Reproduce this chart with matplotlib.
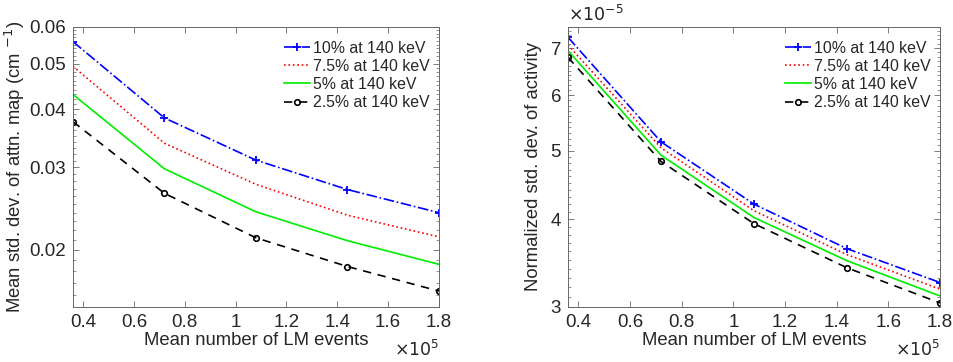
"""Noise vs. number of list-mode events for four energy resolutions.

Left: mean std. dev. of the attenuation map; right: normalized std. dev. of activity.
Both y axes are log-scaled, MATLAB-style box axes.
"""

import matplotlib
matplotlib.use("Agg")
import matplotlib.pyplot as plt
from matplotlib.ticker import FixedLocator, FuncFormatter, MultipleLocator

plt.rcParams["font.family"] = ["Liberation Sans", "DejaVu Sans"]

# data
lm_events = [36000, 72000, 108000, 144000, 180000]
labels = ["10% at 140 keV", "7.5% at 140 keV", "5% at 140 keV", "2.5% at 140 keV"]

attn_10 = [0.0558, 0.0383, 0.0311, 0.0269, 0.0240]
attn_75 = [0.0494, 0.0338, 0.0276, 0.0237, 0.0213]
attn_5 = [0.0430, 0.0298, 0.0241, 0.0209, 0.0186]
attn_25 = [0.0376, 0.0264, 0.0212, 0.0184, 0.0163]

act_10 = [7.25e-5, 5.15e-5, 4.20e-5, 3.63e-5, 3.25e-5]
act_75 = [7.07e-5, 5.05e-5, 4.11e-5, 3.56e-5, 3.18e-5]
act_5 = [6.94e-5, 4.93e-5, 4.02e-5, 3.49e-5, 3.11e-5]
act_25 = [6.79e-5, 4.83e-5, 3.94e-5, 3.41e-5, 3.04e-5]

STYLES = [
    dict(color="#0000ff", linestyle="-.", marker="+", markersize=6, markeredgewidth=1.3),
    dict(color="#ff0000", linestyle=":"),
    dict(color="#00ee00", linestyle="-"),
    dict(color="black", linestyle=(0, (5, 4)), marker="o", markersize=4,
         markerfacecolor="none", markeredgewidth=1.2),
]
TXT = "#262626"
AXC = "#666666"
LBL = 13.3
TCK = 13.5


def style_axes(ax):
    ax.set_xlim(36000, 180000)
    ax.xaxis.set_major_locator(FixedLocator([40000 + 20000 * i for i in range(8)]))
    ax.xaxis.set_major_formatter(FuncFormatter(lambda v, p: f"{v / 1e5:g}"))
    ax.tick_params(which="both", direction="in", top=True, right=True,
                   color=AXC, labelcolor=TXT, labelsize=TCK, pad=5)
    ax.tick_params(which="major", length=4, width=0.6)
    ax.tick_params(which="minor", length=2, width=0.5)
    ax.tick_params(axis="x", which="minor", bottom=False, top=False)
    for s in ax.spines.values():
        s.set_color(AXC)
        s.set_linewidth(0.7)
    ax.set_xlabel("Mean number of LM events", fontsize=LBL, color=TXT, labelpad=1)
    ax.text(1.0, -0.115, r"$\times10^{5}$", transform=ax.transAxes,
            ha="right", va="top", fontsize=12.5, color=TXT)
    ax.legend(loc="upper right", bbox_to_anchor=(1.0, 0.985), frameon=False,
              fontsize=11.4, handlelength=1.65, handletextpad=0.15,
              labelspacing=0.2, borderaxespad=0.2, labelcolor=TXT)


fig = plt.figure(figsize=(9.54, 3.62), dpi=100)
ax1 = fig.add_axes([0.0765, 0.152, 0.3836, 0.7735])
ax2 = fig.add_axes([0.5954, 0.152, 0.39, 0.7735])

for ys, lab, st in zip([attn_10, attn_75, attn_5, attn_25], labels, STYLES):
    ax1.plot(lm_events, ys, label=lab, linewidth=1.2, **st)
ax1.set_yscale("log")
ax1.set_ylim(0.01507, 0.06)
ax1.yaxis.set_major_locator(FixedLocator([0.02, 0.03, 0.04, 0.05, 0.06]))
ax1.yaxis.set_major_formatter(FuncFormatter(lambda v, p: f"{v:.2f}"))
ax1.yaxis.set_minor_locator(MultipleLocator(0.001))
ax1.yaxis.set_minor_formatter(FuncFormatter(lambda v, p: ""))
ax1.set_ylabel(r"Mean std. dev. of attn. map (cm $^{-1}$)", fontsize=LBL, color=TXT)
ax1.yaxis.set_label_coords(-0.127, 0.5)
style_axes(ax1)

for ys, lab, st in zip([act_10, act_75, act_5, act_25], labels, STYLES):
    ax2.plot(lm_events, ys, label=lab, linewidth=1.2, **st)
ax2.set_yscale("log")
ax2.set_ylim(3.0e-5, 7.5e-5)
ax2.yaxis.set_major_locator(FixedLocator([3e-5, 4e-5, 5e-5, 6e-5, 7e-5]))
ax2.yaxis.set_major_formatter(FuncFormatter(lambda v, p: f"{v / 1e-5:.0f}"))
ax2.yaxis.set_minor_locator(MultipleLocator(0.1e-5))
ax2.yaxis.set_minor_formatter(FuncFormatter(lambda v, p: ""))
ax2.set_ylabel("Normalized std. dev. of activity", fontsize=LBL, color=TXT)
ax2.yaxis.set_label_coords(-0.07, 0.5)
ax2.text(0.0, 1.01, r"$\times10^{-5}$", transform=ax2.transAxes,
         ha="left", va="bottom", fontsize=12.5, color=TXT)
style_axes(ax2)

fig.savefig("out.png", dpi=100)
